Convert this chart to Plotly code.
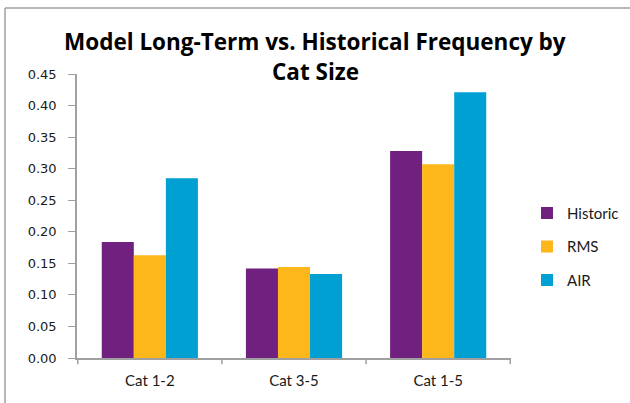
import plotly.graph_objects as go

categories = ["Cat 1-2", "Cat 3-5", "Cat 1-5"]
historic = [0.184, 0.142, 0.328]
rms = [0.163, 0.144, 0.307]
air = [0.285, 0.133, 0.421]
tick_vals = [0.00, 0.05, 0.10, 0.15, 0.20, 0.25, 0.30, 0.35, 0.40, 0.45]
tick_text = [f"{v:.2f}" for v in tick_vals]

series = [("Historic", historic, "#70207E"), ("RMS", rms, "#FDB71A"), ("AIR", air, "#00A0D2")]

fig = go.Figure()
for name, vals, col in series:
    fig.add_trace(go.Bar(name=name, x=categories, y=vals, marker_color=col,
                         marker_line_width=0, legendgroup=name))

W, H = 630, 403
L, R = 77, 511
T, B = 74, 357.7

def px(x):
    return (x - L) / (R - L)

def py(y):
    return (B - y) / (B - T)

fig.update_layout(
    width=W, height=H,
    margin=dict(l=L, r=W - R, t=T, b=H - B, autoexpand=False),
    paper_bgcolor="white", plot_bgcolor="white",
    barmode="group", bargap=0.333, bargroupgap=0,
    showlegend=True,
    legend=dict(x=px(527), y=py(196.5), xanchor="left", yanchor="top",
                font=dict(family="Lato", size=15, color="#1a1a1a"),
                tracegroupgap=11, bgcolor="rgba(0,0,0,0)"),
    xaxis=dict(showline=True, linecolor="#A0A0A0", linewidth=1.5,
               ticks="outside", ticklen=0, showgrid=False, ticklabelstandoff=8,
               tickfont=dict(family="Lato", size=15, color="#1a1a1a")),
    yaxis=dict(range=[0, 0.45], tickvals=tick_vals, ticktext=tick_text,
               showline=True, linecolor="#A0A0A0", linewidth=1.5,
               ticks="outside", ticklen=7, tickcolor="#A0A0A0", showgrid=False,
               zeroline=False, ticklabelstandoff=9,
               tickfont=dict(family="DejaVu Sans", size=13, color="#1a1a1a")),
    annotations=[
        dict(text="<b>Model Long-Term vs. Historical Frequency by</b>", x=px(315), y=py(42),
             xref="paper", yref="paper", showarrow=False, xanchor="center", yanchor="middle",
             font=dict(family="Open Sans", size=22.5, color="black")),
        dict(text="<b>Cat Size</b>", x=px(315), y=py(72),
             xref="paper", yref="paper", showarrow=False, xanchor="center", yanchor="middle",
             font=dict(family="Open Sans", size=22.5, color="black")),
    ],
    shapes=[
        dict(type="line", xref="paper", yref="paper", x0=px(5), x1=px(632), y0=py(8), y1=py(8),
             line=dict(color="#A0A0A0", width=1.5)),
        dict(type="line", xref="paper", yref="paper", x0=px(5), x1=px(5), y0=py(8), y1=py(405),
             line=dict(color="#A0A0A0", width=1.5)),
    ] + [
        dict(type="line", xref="x", yref="paper", x0=i + 0.5, x1=i + 0.5, y0=0, y1=py(364),
             line=dict(color="#A0A0A0", width=1.5)) for i in range(-1, len(categories))
    ],
)

fig.write_html("out.html", config={"displayModeBar": False},
               post_script="document.body.style.margin='0';")
